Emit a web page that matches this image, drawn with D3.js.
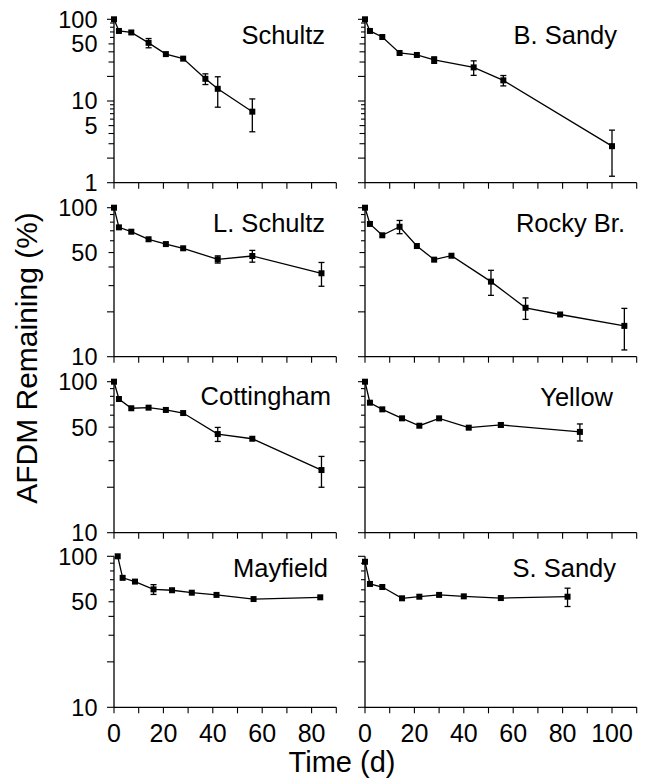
<!DOCTYPE html>
<html>
<head>
<meta charset="utf-8">
<script src="https://cdn.jsdelivr.net/npm/d3@7"></script>
<style>
  html, body { margin: 0; padding: 0; background: #fff; }
  svg { display: block; }
  text { font-family: "Liberation Sans", Arial, Helvetica, sans-serif; fill: #000; }
</style>
</head>
<body>
<svg id="chart" width="645" height="780"></svg>
<script>
// ---------------- DATA ----------------
const siteNames = ["Schultz", "B. Sandy", "L. Schultz", "Rocky Br.", "Cottingham", "Yellow", "Mayfield", "S. Sandy"];

const schultzDays = [0, 2, 7, 14, 21, 28, 37, 42, 56];
const schultzAFDM = [100, 72, 69, 51.5, 37.5, 33, 18.7, 14.1, 7.4];
const schultzSE   = [0, 0, 0, 6.7, 0, 0, 2.8, 5.7, 3.2];

const bSandyDays = [0, 2, 7, 14, 21, 28, 44, 56, 100];
const bSandyAFDM = [100, 72, 60.7, 38.7, 36.6, 31.8, 25.8, 17.9, 2.8];
const bSandySE   = [0, 0, 0, 0, 0, 2.9, 5.2, 2.6, 1.6];

const lSchultzDays = [0, 2, 7, 14, 21, 28, 42, 56, 84];
const lSchultzAFDM = [100, 73.8, 69, 61.4, 57, 53.4, 45, 47.4, 36.3];
const lSchultzSE   = [0, 0, 0, 0, 0, 0, 2.5, 4.3, 6.6];

const rockyDays = [0, 2, 7, 14, 21, 28, 35, 51, 65, 79, 105];
const rockyAFDM = [100, 77.8, 65.3, 74.5, 55.3, 44.8, 47.6, 31.9, 21.3, 19.2, 16.1];
const rockySE   = [0, 0, 0, 7.6, 0, 0, 0, 6.1, 3.5, 0, 5];

const cottinghamDays = [0, 2, 7, 14, 21, 28, 42, 56, 84];
const cottinghamAFDM = [100, 76.8, 66.7, 67.3, 65, 62, 45, 41.9, 26];
const cottinghamSE   = [0, 0, 0, 0, 0, 0, 4.8, 0, 6];

const yellowDays = [0, 2, 7, 15, 22, 30, 42, 55, 87];
const yellowAFDM = [100, 72.6, 65.6, 57.2, 51.1, 57.2, 49.6, 51.7, 46.5];
const yellowSE   = [0, 0, 0, 0, 0, 0, 0, 1.5, 6];

const mayfieldDays = [1.5, 3.5, 8.5, 16, 23.5, 31.5, 41.5, 56.5, 83.5];
const mayfieldAFDM = [100, 72, 68, 60.4, 59.6, 57.4, 55.5, 52.1, 53.5];
const mayfieldSE   = [0, 0, 0, 4.5, 0, 0, 0, 0, 0];

const sSandyDays = [0, 2, 7, 15, 22, 30, 40, 55, 82];
const sSandyAFDM = [92, 65.6, 62.6, 52.7, 54, 55.5, 54.3, 52.9, 54];
const sSandySE   = [0, 0, 0, 0, 0, 0, 0, 0, 7.5];

const xTickValuesLeft  = [0, 10, 20, 30, 40, 50, 60, 70, 80, 90];
const xTickValuesRight = [0, 10, 20, 30, 40, 50, 60, 70, 80, 90, 100, 110];
const xTickLabels = [0, 20, 40, 60, 80, 100];
const yLabelsTopRow = [1, 5, 10, 50, 100];
const yLabelsOtherRows = [10, 50, 100];

const yTitle = "AFDM Remaining (%)";
const xTitle = "Time (d)";

// ---------------- LAYOUT ----------------
const seriesList = [
  [schultzDays, schultzAFDM, schultzSE],
  [bSandyDays, bSandyAFDM, bSandySE],
  [lSchultzDays, lSchultzAFDM, lSchultzSE],
  [rockyDays, rockyAFDM, rockySE],
  [cottinghamDays, cottinghamAFDM, cottinghamSE],
  [yellowDays, yellowAFDM, yellowSE],
  [mayfieldDays, mayfieldAFDM, mayfieldSE],
  [sSandyDays, sSandyAFDM, sSandySE]
];

const pxPerDay = 2.47;
const colX0 = [114, 365];
const colDomain = [[0, 90], [0, 110]];
const rowTop = [19.3, 207.7, 381.7, 556.3];
const rowBottom = [182.7, 356.7, 532.7, 707.3];
const rowYDomain = [[1, 100], [10, 100], [10, 100], [10, 100]];
const labelPos = [
  [325, 44], [617, 44],
  [325, 232], [625, 232],
  [331, 405], [613, 405.5],
  [328, 577], [616, 577]
];

const svg = d3.select("#chart");
const STROKE = 1.3;

siteNames.forEach((name, i) => {
  const row = Math.floor(i / 2), col = i % 2;
  const [days, vals, se] = seriesList[i];
  const dom = colDomain[col];
  const x = d3.scaleLinear().domain(dom).range([colX0[col], colX0[col] + (dom[1] - dom[0]) * pxPerDay]);
  const y = d3.scaleLog().domain(rowYDomain[row]).range([rowBottom[row], rowTop[row]]);
  const g = svg.append("g");

  // Y axis
  const yTicks = y.ticks();
  const tickLen = v => {
    const m = v / Math.pow(10, Math.floor(Math.log10(v) + 1e-9));
    const mm = Math.round(m);
    if (mm === 1 || mm === 2) return 7;
    if (mm === 3 || mm === 4 || mm === 5) return 5.5;
    return 4;
  };
  g.append("line")
    .attr("x1", x(0)).attr("x2", x(0))
    .attr("y1", y(rowYDomain[row][1])).attr("y2", y(rowYDomain[row][0]))
    .attr("stroke", "#000").attr("stroke-width", STROKE);
  g.selectAll(".ytick").data(yTicks).enter().append("line")
    .attr("x1", d => x(0) - tickLen(d)).attr("x2", x(0))
    .attr("y1", d => y(d)).attr("y2", d => y(d))
    .attr("stroke", "#000").attr("stroke-width", 1.1);
  if (col === 0) {
    const labs = row === 0 ? yLabelsTopRow : yLabelsOtherRows;
    g.selectAll(".ylab").data(labs).enter().append("text")
      .attr("x", x(0) - 16.5).attr("y", d => y(d))
      .attr("dy", "0.36em")
      .attr("text-anchor", "end")
      .attr("font-size", 23.5)
      .text(d => d);
  }

  // X axis
  const xt = col === 0 ? xTickValuesLeft : xTickValuesRight;
  g.append("line")
    .attr("x1", x(dom[0])).attr("x2", x(dom[1]))
    .attr("y1", rowBottom[row]).attr("y2", rowBottom[row])
    .attr("stroke", "#000").attr("stroke-width", STROKE);
  g.selectAll(".xtick").data(xt).enter().append("line")
    .attr("x1", d => x(d)).attr("x2", d => x(d))
    .attr("y1", rowBottom[row]).attr("y2", rowBottom[row] + 6)
    .attr("stroke", "#000").attr("stroke-width", 1.1);
  if (row === 3) {
    g.selectAll(".xlab").data(xTickLabels.filter(v => v <= dom[1])).enter().append("text")
      .attr("x", d => x(d)).attr("y", rowBottom[row] + 35)
      .attr("text-anchor", "middle")
      .attr("font-size", 25)
      .text(d => d);
  }

  // Data
  const pts = days.map((d, k) => ({ d: d, v: vals[k], se: se[k] }));
  const line = d3.line().x(p => x(p.d)).y(p => y(p.v));
  g.append("path").datum(pts)
    .attr("d", line)
    .attr("fill", "none").attr("stroke", "#000").attr("stroke-width", STROKE);

  const eb = pts.filter(p => p.se > 0);
  const capW = 3;
  eb.forEach(p => {
    const yHi = y(p.v + p.se), yLo = y(Math.max(p.v - p.se, rowYDomain[row][0]));
    g.append("line").attr("x1", x(p.d)).attr("x2", x(p.d)).attr("y1", yHi).attr("y2", yLo)
      .attr("stroke", "#000").attr("stroke-width", STROKE);
    g.append("line").attr("x1", x(p.d) - capW).attr("x2", x(p.d) + capW).attr("y1", yHi).attr("y2", yHi)
      .attr("stroke", "#000").attr("stroke-width", STROKE);
    g.append("line").attr("x1", x(p.d) - capW).attr("x2", x(p.d) + capW).attr("y1", yLo).attr("y2", yLo)
      .attr("stroke", "#000").attr("stroke-width", STROKE);
  });

  const ms = 6;
  g.selectAll(".mk").data(pts).enter().append("rect")
    .attr("x", p => x(p.d) - ms / 2).attr("y", p => y(p.v) - ms / 2)
    .attr("width", ms).attr("height", ms)
    .attr("fill", "#000");

  // Panel label
  g.append("text")
    .attr("x", labelPos[i][0]).attr("y", labelPos[i][1])
    .attr("text-anchor", "end")
    .attr("font-size", 25.5)
    .text(name);
});

// Axis titles
svg.append("text")
  .attr("x", 342).attr("y", 772)
  .attr("text-anchor", "middle")
  .attr("font-size", 29)
  .text(xTitle);

svg.append("text")
  .attr("transform", "translate(37,358) rotate(-90)")
  .attr("text-anchor", "middle")
  .attr("font-size", 30)
  .text(yTitle);
</script>
</body>
</html>
